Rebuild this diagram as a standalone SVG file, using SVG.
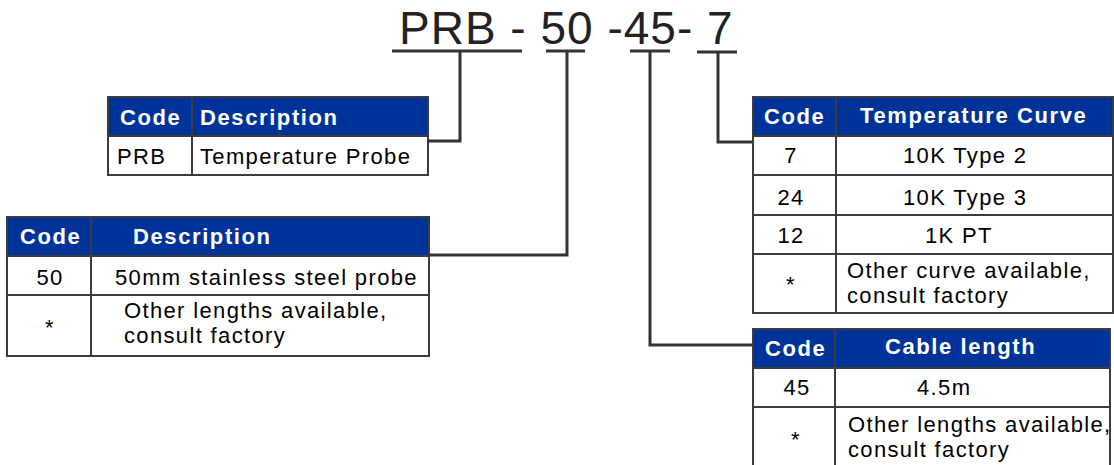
<svg xmlns="http://www.w3.org/2000/svg" width="1114" height="465" viewBox="0 0 1114 465">
<style>
  .hdr { fill: #003399; }
  .cell { fill: #ffffff; }
  .grid { fill: none; stroke: #3c3c3c; stroke-width: 2; }
  .conn { fill: none; stroke: #333333; stroke-width: 3; }
  .h { font-family: "Liberation Sans", Arial, sans-serif; font-weight: bold; font-size: 22px; letter-spacing: 1.6px; fill: #ffffff; }
  .t { font-family: "Liberation Sans", Arial, sans-serif; font-size: 22px; letter-spacing: 1.35px; fill: #000000; }
  .c { text-anchor: middle; }
  .title { font-family: "Liberation Sans", Arial, sans-serif; font-size: 46px; letter-spacing: 1px; fill: #222222; }
</style>
<rect width="1114" height="465" fill="#ffffff"/>

<g id="title">
  <text class="title" x="399" y="44" xml:space="preserve">PRB - 50 -45- 7</text>
</g>

<g id="connectors">
  <path class="conn" d="M392 51 H522"/>
  <path class="conn" d="M546 51 H585"/>
  <path class="conn" d="M630 51 H670"/>
  <path class="conn" d="M697 52 H737"/>
  <path class="conn" d="M460 51 V141 H428"/>
  <path class="conn" d="M567 51 V255 H430"/>
  <path class="conn" d="M650 51 V345 H753"/>
  <path class="conn" d="M718 52 V142 H753"/>
</g>

<g id="table-prb">
  <rect class="cell" x="108" y="97" width="320" height="78"/>
  <rect class="hdr" x="108" y="97" width="320" height="39"/>
  <rect class="grid" x="108" y="97" width="320" height="78"/>
  <path class="grid" d="M108 136 H428 M192 97 V175"/>
  <text class="h" x="120" y="125">Code</text>
  <text class="h" x="200" y="125">Description</text>
  <text class="t" x="117" y="164">PRB</text>
  <text class="t" x="200" y="164">Temperature Probe</text>
</g>

<g id="table-length">
  <rect class="cell" x="7" y="217" width="422" height="139"/>
  <rect class="hdr" x="7" y="217" width="422" height="39"/>
  <rect class="grid" x="7" y="217" width="422" height="139"/>
  <path class="grid" d="M7 256 H429 M7 295 H429 M91 217 V356"/>
  <text class="h" x="20" y="244">Code</text>
  <text class="h" x="133" y="244">Description</text>
  <text class="t c" x="50" y="285">50</text>
  <text class="t" x="115" y="285">50mm stainless steel probe</text>
  <text class="t c" x="50" y="335">*</text>
  <text class="t" x="124" y="318">Other lengths available,</text>
  <text class="t" x="124" y="343">consult factory</text>
</g>

<g id="table-curve">
  <rect class="cell" x="753" y="97" width="360" height="216"/>
  <rect class="hdr" x="753" y="97" width="360" height="39"/>
  <rect class="grid" x="753" y="97" width="360" height="216"/>
  <path class="grid" d="M753 136 H1113 M753 175 H1113 M753 215 H1113 M753 254 H1113 M836 97 V313"/>
  <text class="h" x="764" y="124">Code</text>
  <text class="h" x="860" y="123">Temperature Curve</text>
  <text class="t c" x="791" y="163">7</text>
  <text class="t" x="903" y="163">10K Type 2</text>
  <text class="t c" x="791" y="205">24</text>
  <text class="t" x="903" y="205">10K Type 3</text>
  <text class="t c" x="791" y="243">12</text>
  <text class="t" x="925" y="243">1K PT</text>
  <text class="t c" x="791" y="292">*</text>
  <text class="t" x="847" y="278">Other curve available,</text>
  <text class="t" x="847" y="303">consult factory</text>
</g>

<g id="table-cable">
  <rect class="cell" x="753" y="329" width="357" height="145"/>
  <rect class="hdr" x="753" y="329" width="357" height="39"/>
  <rect class="grid" x="753" y="329" width="357" height="145"/>
  <path class="grid" d="M753 368 H1110 M753 407 H1110 M835 329 V474"/>
  <text class="h" x="765" y="356">Code</text>
  <text class="h" x="885" y="354">Cable length</text>
  <text class="t c" x="797" y="395">45</text>
  <text class="t" x="917" y="395">4.5m</text>
  <text class="t c" x="796" y="447">*</text>
  <text class="t" x="848" y="432">Other lengths available,</text>
  <text class="t" x="848" y="457">consult factory</text>
</g>
</svg>
